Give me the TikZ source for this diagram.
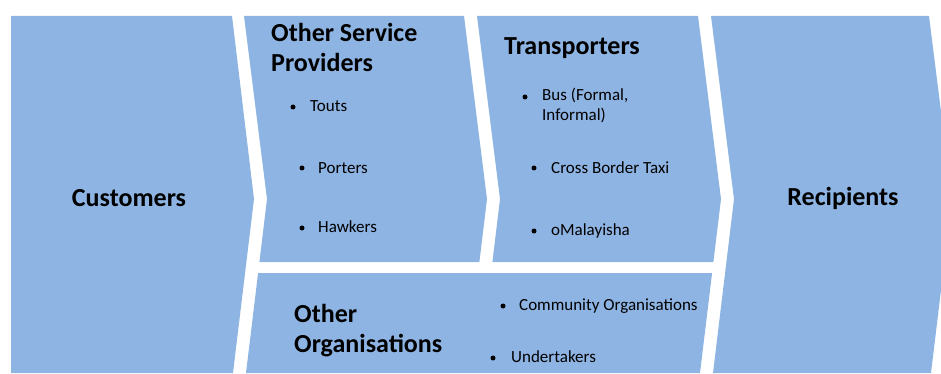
\documentclass[tikz,border=0pt]{standalone}
\usepackage{fontspec}
\setmainfont{Carlito}
\definecolor{chev}{RGB}{142,180,227}
\tikzset{
  panel/.style={fill=chev, draw=none},
  head/.style={font=\bfseries\fontsize{26}{30}\selectfont, inner sep=0pt, align=left},
  item/.style={font=\fontsize{17}{20}\selectfont, inner sep=0pt, align=left, anchor=base west},
  dot/.style={circle, fill=black, inner sep=0pt, minimum size=5pt}
}
\begin{document}
\begin{tikzpicture}[x=1pt,y=-1pt]
\useasboundingbox (0,0) rectangle (941,374);
\begin{scope}
\clip (0,0) rectangle (941,374);
% Customers
\fill[panel] (11,16) -- (232,16) -- (254,199) -- (233,373) -- (11,373) -- cycle;
% Other Service Providers
\fill[panel] (244,16) -- (464,16) -- (487,199) -- (479.4,262) -- (259.4,262) -- (267,199) -- cycle;
% Transporters
\fill[panel] (477,16) -- (698,16) -- (721,199) -- (713.4,262) -- (492.4,262) -- (500,199) -- cycle;
% Other Organisations
\fill[panel] (258.1,273) -- (712.1,273) -- (700,373) -- (246,373) -- cycle;
% Recipients
\fill[panel] (711,16) -- (929,16) -- (952,199) -- (931,373) -- (713,373) -- (734,199) -- cycle;
\end{scope}

\node[head, anchor=base] (cust) at (129,206) {Customers};
\node[head, anchor=base] (recp) at (843,205) {Recipients};
\node[head, anchor=base west] (osp) at (271,72) {Other Service\\Providers};
\node[head, anchor=base west] (trans) at (504,55) {Transporters};
\node[head, anchor=base west] (oorg) at (294,352) {Other\\Organisations};

\node[dot] (b1) at (293,107) {};
\node[item] (touts) at (310,112) {Touts};
\node[dot] (b2) at (302,168) {};
\node[item] (porters) at (318,173) {Porters};
\node[dot] (b3) at (302,228) {};
\node[item] (hawkers) at (318,232) {Hawkers};

\node[dot] (b4) at (525,97) {};
\node[item] (bus) at (542,121) {Bus (Formal,\\Informal)};
\node[dot] (b5) at (534,168) {};
\node[item] (taxi) at (551,173) {Cross Border Taxi};
\node[dot] (b6) at (534,231) {};
\node[item] (omal) at (551,235) {oMalayisha};

\node[dot] (b7) at (503,306) {};
\node[item] (comm) at (519,310) {Community Organisations};
\node[dot] (b8) at (493,358) {};
\node[item] (under) at (511,362) {Undertakers};
\end{tikzpicture}
\end{document}
